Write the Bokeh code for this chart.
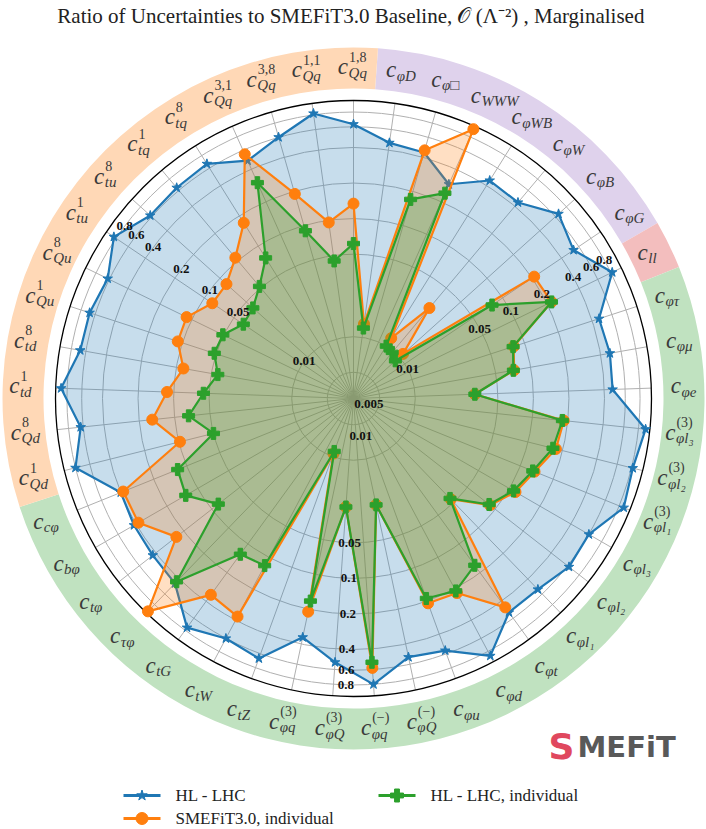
import numpy as np
from bokeh.plotting import figure
from bokeh.models import Range1d
from bokeh.core.properties import value
from bokeh.embed import file_html
from bokeh.resources import INLINE

# ---------------- data ----------------
op_sub = ["φD", "φ□", "WWW", "φWB", "φW", "φB", "φG",
          "ll",
          "φτ", "φμ", "φe", "φl₃", "φl₂", "φl₁", "φl₃", "φl₂", "φl₁", "φt", "φd", "φu",
          "φQ", "φq", "φQ", "φq", "tZ", "tW", "tG", "τφ", "tφ", "bφ", "cφ",
          "Qd", "Qd", "td", "td", "Qu", "Qu", "tu", "tu", "tq", "tq", "Qq", "Qq", "Qq", "Qq"]
op_sup = ["", "", "", "", "", "", "",
          "",
          "", "", "", "(3)", "(3)", "(3)", "", "", "", "", "", "",
          "(−)", "(−)", "(3)", "(3)", "", "", "", "", "", "", "",
          "1", "8", "1", "8", "1", "8", "1", "8", "1", "8", "3,1", "3,8", "1,1", "1,8"]

group_sizes = [7, 1, 23, 14]
group_colors = ["#dfd2ec", "#f3bebe", "#c0e2c0", "#ffd8b6"]

hl_lhc = [0.46, 0.44, 0.29, 0.45, 0.44, 0.65, 0.53, 0.82, 0.46, 0.48,
          0.47, 0.92, 0.82, 0.88, 0.60, 0.62, 0.53, 0.52, 0.88, 0.56,
          0.52, 0.80, 0.52, 0.35, 0.66, 0.60, 0.75, 0.45, 0.43, 0.42,
          0.40, 0.80, 0.63, 0.90, 0.67, 0.67, 0.62, 0.84, 0.62, 0.64,
          0.66, 0.48, 0.60, 0.82, 0.63]
smefit3_individual = [0.013, 0.46, 0.94, 0.012, 0.030, 0.011, 0.21, 0.22, 0.080, 0.072,
                      0.032, 0.185, 0.175, 0.135, 0.115, 0.088, 0.046, 0.46, 0.22, 0.21,
                      0.025, 0.58, 0.025, 0.21, 0.0094, 0.37, 0.34, 0.96, 0.24, 0.38,
                      0.38, 0.098, 0.155, 0.114, 0.087, 0.11, 0.112, 0.083, 0.084, 0.108,
                      0.17, 0.55, 0.19, 0.096, 0.134]
hl_lhc_individual = [0.012, 0.17, 0.24, 0.010, 0.0097, 0.009, 0.078, 0.22, 0.079, 0.071,
                     0.032, 0.18, 0.165, 0.13, 0.11, 0.086, 0.045, 0.167, 0.21, 0.19,
                     0.025, 0.52, 0.025, 0.17, 0.009, 0.12, 0.128, 0.43, 0.085, 0.131,
                     0.121, 0.050, 0.076, 0.056, 0.044, 0.052, 0.051, 0.040, 0.042, 0.052,
                     0.076, 0.30, 0.09, 0.045, 0.0615]

radial_ticks = [0.005, 0.01, 0.05, 0.1, 0.2, 0.4, 0.6, 0.8]
radial_tick_labels = ["0.005", "0.01", "0.05", "0.1", "0.2", "0.4", "0.6", "0.8"]
r_min, r_max = 0.003, 1.0

series_names = ["HL - LHC", "SMEFiT3.0, individual", "HL - LHC, individual"]
series_colors = ["#1f77b4", "#ff7f0e", "#2ca02c"]

title_text = "Ratio of Uncertainties to SMEFiT3.0 Baseline, 𝒪 (Λ⁻²) ,  Marginalised"

# ---------------- geometry (1 data unit = 1 px, y up) ----------------
W, H = 706, 829
CX, CY = 353.0, 431.0
R_AX = 298.0
SERIF = value("Liberation Serif")


def sy(Y):
    return H - Y


def rad(v):
    return R_AX * np.log10(np.asarray(v, dtype=float) / r_min) / np.log10(r_max / r_min)


N = len(op_sub)
step = 360.0 / N
theta_deg = 90.0 - step * (np.arange(N) + 1)
theta = np.deg2rad(theta_deg)

p = figure(width=W, height=H, x_range=Range1d(0, W), y_range=Range1d(0, H),
           output_backend="svg", toolbar_location=None, min_border=0,
           x_axis_type=None, y_axis_type=None)
p.grid.visible = False
p.outline_line_color = None
p.background_fill_color = "white"

# outer coloured band
ang = 90.0 - step / 2
for n, c in zip(group_sizes, group_colors):
    p.annular_wedge(x=CX, y=CY, inner_radius=310, outer_radius=351,
                    start_angle=np.deg2rad(ang - n * step), end_angle=np.deg2rad(ang),
                    fill_color=c, line_color=None)
    ang -= n * step

# grid
p.segment(x0=[CX] * N, y0=[CY] * N, x1=list(CX + R_AX * np.cos(theta)),
          y1=list(CY + R_AX * np.sin(theta)), line_color="#b0b0b0", line_width=1)
for t in radial_ticks:
    p.circle(x=CX, y=CY, radius=float(rad(t)), fill_color=None,
             line_color="#b0b0b0", line_width=1)
p.circle(x=CX, y=CY, radius=R_AX, fill_color=None, line_color="black", line_width=1.3)

# series
markers = ["star", "circle", "plus"]
msizes = [10, 11, 12]
for vals, col, mk, ms in zip([hl_lhc, smefit3_individual, hl_lhc_individual],
                             series_colors, markers, msizes):
    r = rad(vals)
    x = CX + r * np.cos(theta)
    y = CY + r * np.sin(theta)
    xs = list(x) + [x[0]]
    ys = list(y) + [y[0]]
    p.patch(xs, ys, fill_color=col, fill_alpha=0.25, line_color=None)
    p.line(xs, ys, line_color=col, line_width=2.2)
    p.scatter(list(x), list(y), marker=mk, size=ms, fill_color=col, line_color=col)

# radial tick labels (three sets: angle of the set, ticks it shows)
tl_x, tl_y, tl_t = [], [], []
label_sets = [(29.0, 0.009), (143.0, 0.009), (-91.5, 0.04)]
for a_deg, vmin in label_sets:
    a = np.deg2rad(a_deg)
    for t, lab in zip(radial_ticks, radial_tick_labels):
        if t < vmin:
            continue
        rr = float(rad(t))
        tl_x.append(CX + rr * np.cos(a))
        tl_y.append(CY + rr * np.sin(a))
        tl_t.append(lab)
# the two innermost labels of the lower set sit just below the centre
for t, lab, a_deg, shrink in [(0.005, "0.005", -20.0, 0.62), (0.01, "0.01", -79.0, 0.62)]:
    rr = float(rad(t)) * shrink
    a = np.deg2rad(a_deg)
    tl_x.append(CX + rr * np.cos(a))
    tl_y.append(CY + rr * np.sin(a))
    tl_t.append(lab)
p.text(x=tl_x, y=tl_y, text=tl_t, text_font=SERIF, text_font_style="bold",
       text_font_size="13px", text_align="center", text_baseline="middle",
       text_color="#111111")

# operator labels
LAB_R = 331
c_x, c_y, s_x, s_y, s_t, u_x, u_y, u_t = [], [], [], [], [], [], [], []
for i in range(N):
    lx = CX + LAB_R * np.cos(theta[i])
    ly = CY + LAB_R * np.sin(theta[i])
    sw = len(op_sub[i]) * 8.0
    uw = len(op_sup[i]) * 6.8
    cw = 9.5
    tot = cw + max(sw, uw)
    ax = lx - tot / 2 + cw
    c_x.append(ax)
    c_y.append(ly + 1)
    s_x.append(ax + 0.5)
    s_y.append(ly - 5)
    s_t.append(op_sub[i])
    if op_sup[i]:
        u_x.append(ax + 1)
        u_y.append(ly + 11)
        u_t.append(op_sup[i])
p.text(x=c_x, y=c_y, text=["c"] * N, text_font=SERIF, text_font_style="italic",
       text_font_size="23px", text_align="right", text_baseline="middle", text_color="#3a3a3a")
p.text(x=s_x, y=s_y, text=s_t, text_font=SERIF, text_font_style="italic",
       text_font_size="15px", text_align="left", text_baseline="middle", text_color="#3a3a3a")
p.text(x=u_x, y=u_y, text=u_t, text_font=SERIF, text_font_style="normal",
       text_font_size="14px", text_align="left", text_baseline="middle", text_color="#3a3a3a")

# title
p.text(x=[CX], y=[sy(15)], text=[title_text], text_font=SERIF, text_font_size="21px",
       text_align="center", text_baseline="middle", text_color="#222222")

# legend
leg = [(123, 795, 0), (123, 818, 1), (378, 795, 2)]
for lx0, ly0, k in leg:
    y0 = sy(ly0)
    p.line([lx0, lx0 + 37], [y0, y0], line_color=series_colors[k], line_width=3)
    p.scatter([lx0 + 18.5], [y0], marker=markers[k], size=msizes[k] + 1,
              fill_color=series_colors[k], line_color=series_colors[k])
    p.text(x=[lx0 + 52], y=[y0], text=[series_names[k]], text_font=SERIF,
           text_font_size="17px", text_align="left", text_baseline="middle",
           text_color="#222222")

# logo
p.text(x=[548], y=[sy(746)], text=["S"], text_font=value("DejaVu Sans"),
       text_font_style="bold", text_font_size="36px", text_align="left",
       text_baseline="middle", text_color="#e0485e")
p.text(x=[577], y=[sy(746)], text=["MEFiT"], text_font=value("DejaVu Sans"),
       text_font_style="bold", text_font_size="29px", text_align="left",
       text_baseline="middle", text_color="#595959")

open("out.html", "w").write(file_html(p, INLINE))
